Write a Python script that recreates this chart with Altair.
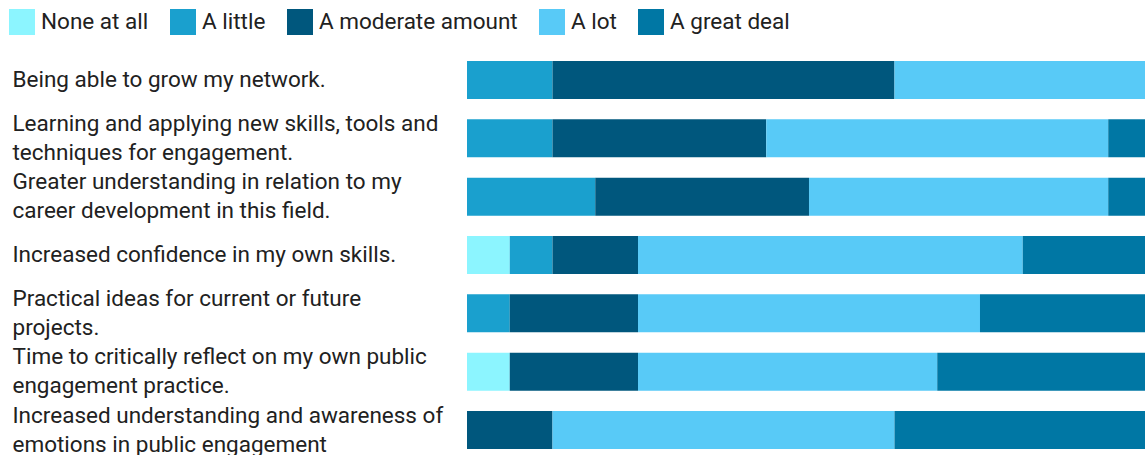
import altair as alt
import pandas as pd

categories = [
    "Being able to grow my network.",
    "Learning and applying new skills, tools and|techniques for engagement.",
    "Greater understanding in relation to my|career development in this field.",
    "Increased confidence in my own skills.",
    "Practical ideas for current or future|projects.",
    "Time to critically reflect on my own public|engagement practice.",
    "Increased understanding and awareness of|emotions in public engagement",
]
levels = ["None at all", "A little", "A moderate amount", "A lot", "A great deal"]
colors = ["#8cf5ff", "#1aa0ce", "#00577d", "#58caf7", "#0077a4"]

none_at_all = [0, 0, 0, 1, 0, 1, 0]
a_little = [2, 2, 3, 1, 1, 0, 0]
moderate = [8, 5, 5, 2, 3, 3, 2]
a_lot = [7, 8, 7, 9, 8, 7, 8]
great_deal = [0, 2, 2, 4, 5, 6, 7]

series = [none_at_all, a_little, moderate, a_lot, great_deal]
rows = []
for li, (lev, vals) in enumerate(zip(levels, series)):
    for cat, v in zip(categories, vals):
        rows.append({"item": cat, "level": lev, "count": v, "idx": li})
df = pd.DataFrame(rows)

font = "Roboto"
text_color = "#212121"
fs = 22.5

chart = alt.Chart(df).mark_bar(clip=True).encode(
    x=alt.X("count:Q", stack="zero",
            scale=alt.Scale(domain=[0, 15.86], nice=False, zero=True),
            axis=None),
    y=alt.Y("item:N", sort=categories,
            scale=alt.Scale(paddingInner=0.349, paddingOuter=0),
            axis=alt.Axis(title=None, labelAlign="left", labelPadding=455,
                          ticks=False, tickSize=0, domain=False,
                          labelFont=font, labelFontSize=fs, labelColor=text_color,
                          labelLimit=470, labelLineHeight=29,
                          labelBaseline="middle",
                          labelOffset={"condition": {"test": "indexof(datum.value, '|') >= 0",
                                                     "value": -14.5},
                                       "value": 0},
                          labelExpr="split(datum.label, '|')")),
    color=alt.Color("level:N", scale=alt.Scale(domain=levels, range=colors),
                    legend=alt.Legend(orient="none", legendX=-458, legendY=-52,
                                      direction="horizontal", title=None,
                                      symbolType="square",
                                      symbolSize=676, symbolStrokeWidth=0,
                                      symbolOpacity=1,
                                      labelFont=font, labelFontSize=fs,
                                      labelColor=text_color, labelOffset=6,
                                      columnPadding=21, padding=0, labelLimit=300)),
    order=alt.Order("idx:Q", sort="ascending"),
).properties(
    width=678, height=388,
    autosize=alt.AutoSizeParams(type="none"),
    padding={"left": 467, "top": 61, "right": 0, "bottom": 6},
).configure_view(stroke=None)

chart.save("out.html", embed_options={"renderer": "svg", "actions": False})
